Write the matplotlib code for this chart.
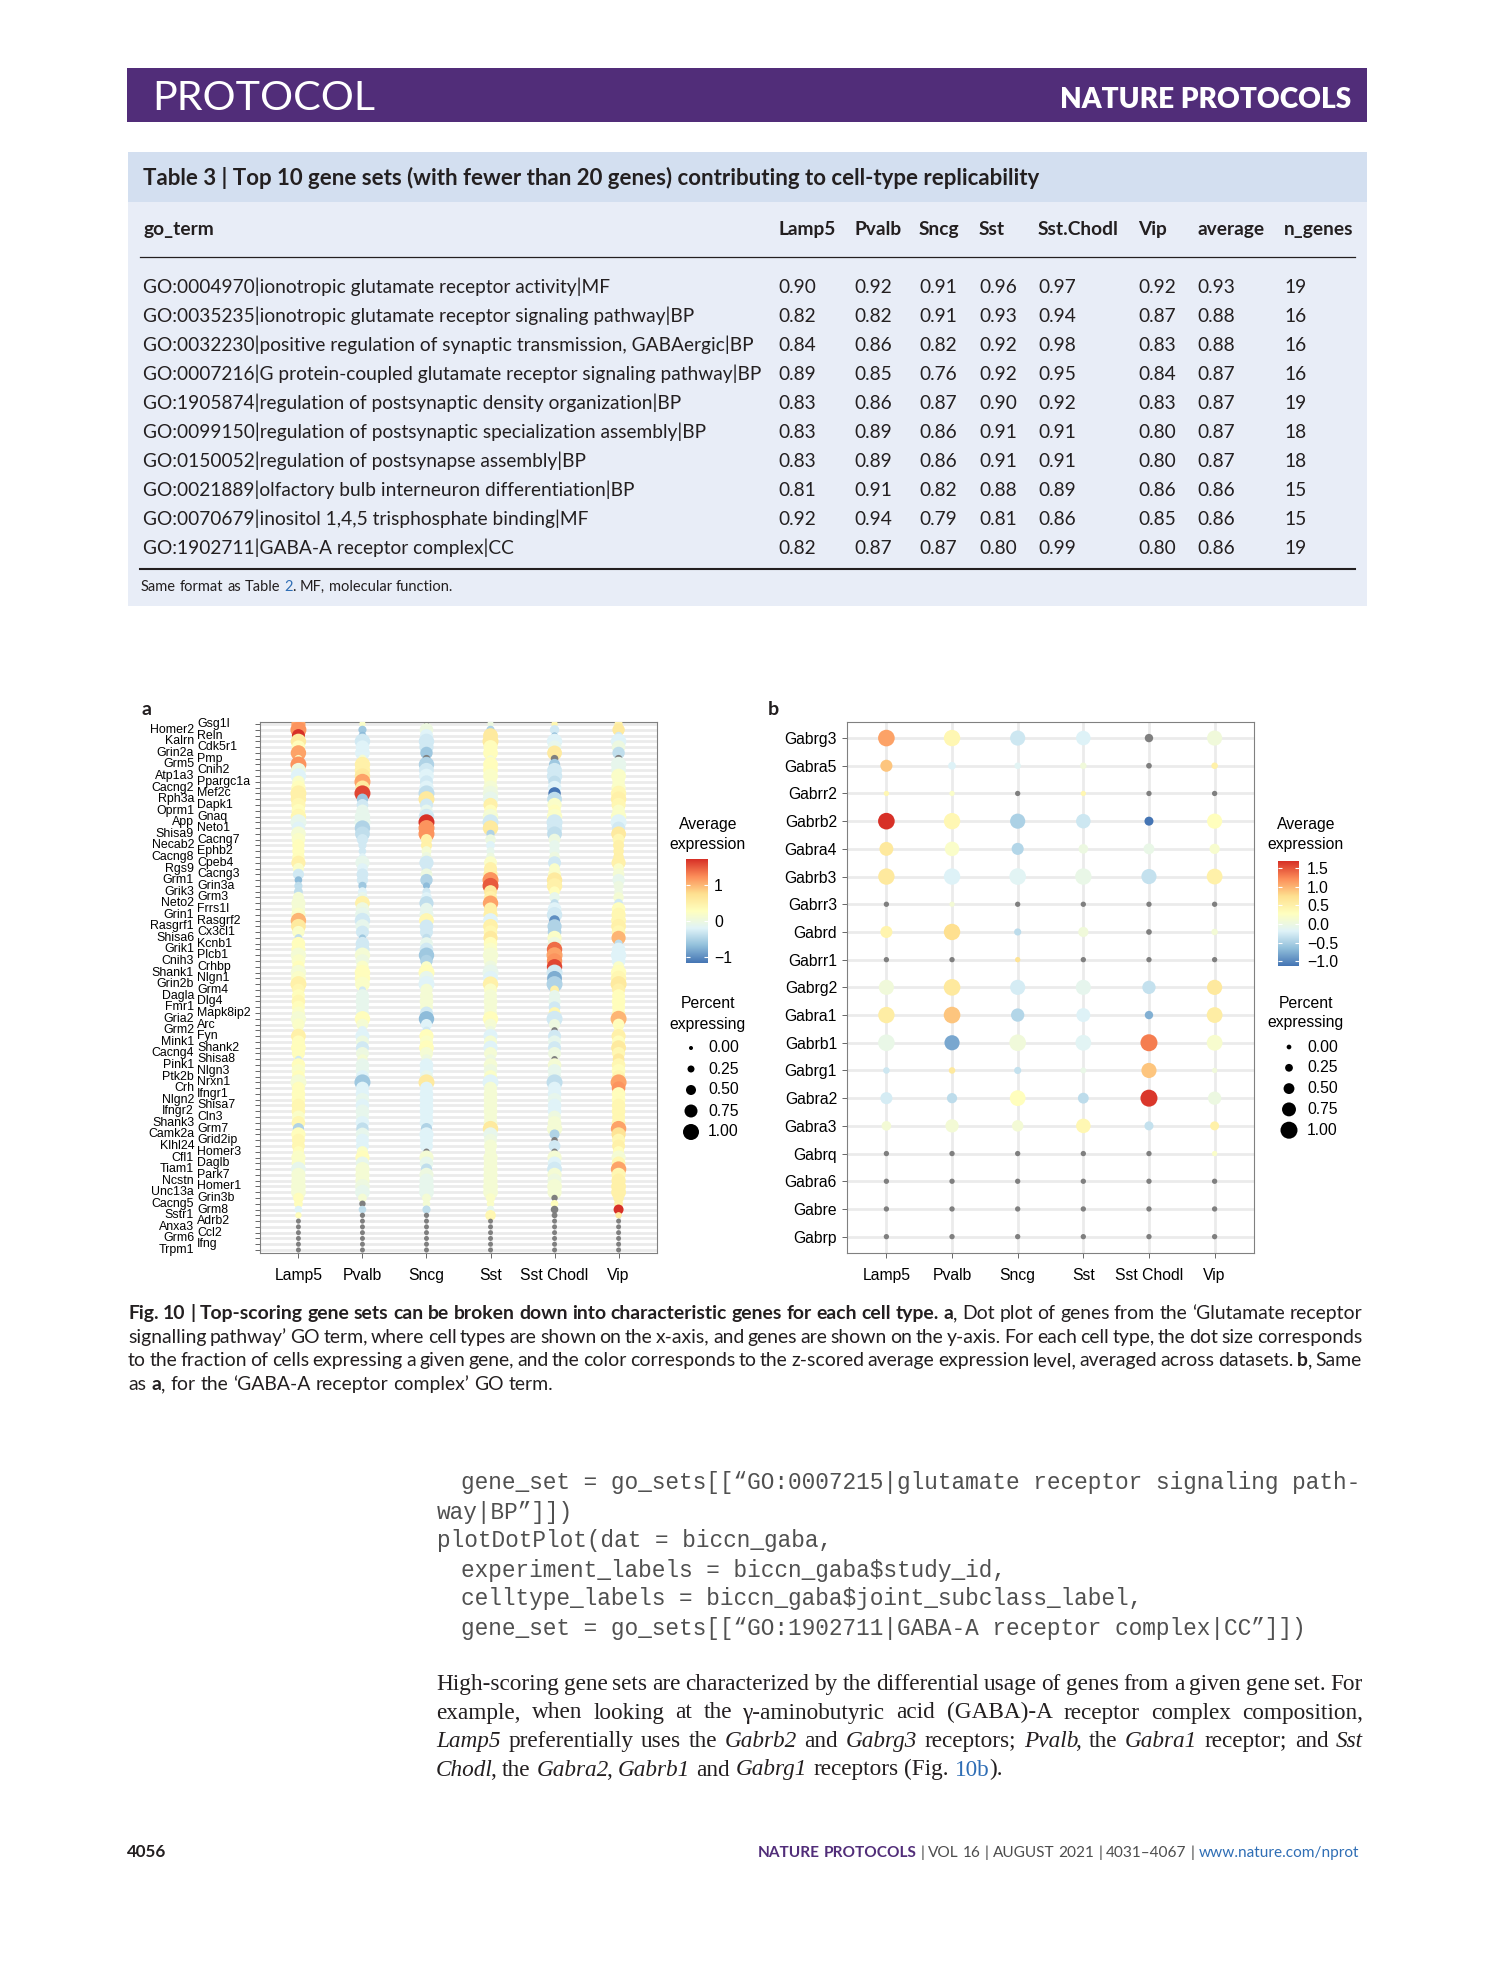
import re
import matplotlib
matplotlib.use("Agg")
import numpy as np
import matplotlib.pyplot as plt
from matplotlib.colors import LinearSegmentedColormap, Normalize
from matplotlib.patches import Rectangle

W, H = 1489, 1978
INK = "#231F20"
PURPLE = "#512D79"
BLUE = "#2F6EB5"
NA_GREY = "#7F7F7F"
SANS = ["Lato", "DejaVu Sans"]
PLOT_FONT = ["Liberation Sans", "DejaVu Sans"]
SERIF = ["Liberation Serif", "DejaVu Serif"]
MONO = ["Liberation Mono", "DejaVu Sans Mono"]

plt.rcParams["font.family"] = PLOT_FONT

# ---------------- table 3 ----------------
table_cols = ["go_term", "Lamp5", "Pvalb", "Sncg", "Sst", "Sst.Chodl", "Vip", "average", "n_genes"]
go_terms = [
    "GO:0004970|ionotropic glutamate receptor activity|MF",
    "GO:0035235|ionotropic glutamate receptor signaling pathway|BP",
    "GO:0032230|positive regulation of synaptic transmission, GABAergic|BP",
    "GO:0007216|G protein-coupled glutamate receptor signaling pathway|BP",
    "GO:1905874|regulation of postsynaptic density organization|BP",
    "GO:0099150|regulation of postsynaptic specialization assembly|BP",
    "GO:0150052|regulation of postsynapse assembly|BP",
    "GO:0021889|olfactory bulb interneuron differentiation|BP",
    "GO:0070679|inositol 1,4,5 trisphosphate binding|MF",
    "GO:1902711|GABA-A receptor complex|CC",
]
auroc_lamp5 = [0.90, 0.82, 0.84, 0.89, 0.83, 0.83, 0.83, 0.81, 0.92, 0.82]
auroc_pvalb = [0.92, 0.82, 0.86, 0.85, 0.86, 0.89, 0.89, 0.91, 0.94, 0.87]
auroc_sncg = [0.91, 0.91, 0.82, 0.76, 0.87, 0.86, 0.86, 0.82, 0.79, 0.87]
auroc_sst = [0.96, 0.93, 0.92, 0.92, 0.90, 0.91, 0.91, 0.88, 0.81, 0.80]
auroc_chodl = [0.97, 0.94, 0.98, 0.95, 0.92, 0.91, 0.91, 0.89, 0.86, 0.99]
auroc_vip = [0.92, 0.87, 0.83, 0.84, 0.83, 0.80, 0.80, 0.86, 0.85, 0.80]
auroc_avg = [0.93, 0.88, 0.88, 0.87, 0.87, 0.87, 0.87, 0.86, 0.86, 0.86]
n_genes = [19, 16, 16, 16, 19, 18, 18, 15, 15, 19]

# ---------------- dot plots ----------------
cell_types = ["Lamp5", "Pvalb", "Sncg", "Sst", "Sst Chodl", "Vip"]
N = None

genes_a = [
    "Gsg1l", "Homer2", "Reln", "Kalrn", "Cdk5r1", "Grin2a", "Pmp", "Grm5", "Cnih2", "Atp1a3",
    "Ppargc1a", "Cacng2", "Mef2c", "Rph3a", "Dapk1", "Oprm1", "Gnaq", "App", "Neto1", "Shisa9",
    "Cacng7", "Necab2", "Ephb2", "Cacng8", "Cpeb4", "Rgs9", "Cacng3", "Grm1", "Grin3a", "Grik3",
    "Grm3", "Neto2", "Frrs1l", "Grin1", "Rasgrf2", "Rasgrf1", "Cx3cl1", "Shisa6", "Kcnb1", "Grik1",
    "Plcb1", "Cnih3", "Crhbp", "Shank1", "Nlgn1", "Grin2b", "Grm4", "Dagla", "Dlg4", "Fmr1",
    "Mapk8ip2", "Gria2", "Arc", "Grm2", "Fyn", "Mink1", "Shank2", "Cacng4", "Shisa8", "Pink1",
    "Nlgn3", "Ptk2b", "Nrxn1", "Crh", "Ifngr1", "Nlgn2", "Shisa7", "Ifngr2", "Cln3", "Shank3",
    "Grm7", "Camk2a", "Grid2ip", "Klhl24", "Homer3", "Cfl1", "Daglb", "Tiam1", "Park7", "Ncstn",
    "Homer1", "Unc13a", "Grin3b", "Cacng5", "Grm8", "Sstr1", "Adrb2", "Anxa3", "Ccl2", "Grm6",
    "Ifng", "Trpm1",
]
# average expression (z-scored); None = not detected (grey)
expr_a = [
    [1.1, 0.2, N, 0.0, 0.4, 0.5], [1.2, -0.6, 0.0, -0.5, -0.3, 0.6],
    [1.72, -0.7, -0.2, 0.6, -0.7, -0.3], [0.6, -0.3, -0.3, 0.6, -0.2, -0.2],
    [0.3, -0.2, -0.3, 0.3, -0.1, 0.0], [1.1, -0.2, -0.6, 0.3, 0.6, -0.4],
    [0.2, 0.1, N, 0.1, N, N], [1.2, 0.5, -0.5, 0.3, -0.6, -0.1],
    [0.0, 0.5, -0.3, 0.3, -0.3, -0.1], [-0.2, 0.6, -0.2, 0.2, -0.3, 0.2],
    [0.2, 1.1, -0.3, 0.2, -0.4, 0.2], [0.3, 0.6, -0.2, 0.1, -0.2, 0.2],
    [0.5, 1.6, -0.4, 0.0, -1.17, 0.4], [0.5, -0.6, 0.6, -0.1, -0.4, 0.5],
    [0.4, -0.3, -0.3, 0.5, 0.2, 0.4], [0.3, -0.1, -0.1, 0.3, 0.3, 0.2],
    [0.4, -0.1, -0.3, 0.1, 0.2, 0.2], [-0.1, -0.1, 1.7, -0.3, -0.3, -0.2],
    [-0.2, -0.5, 1.2, 0.6, -0.3, -0.3], [0.1, -0.4, 1.2, -0.5, -0.4, 0.6],
    [0.2, -0.3, 0.5, 0.0, 0.0, 0.4], [0.3, -0.3, 0.5, -0.2, -0.1, 0.5],
    [0.3, -0.3, 0.1, -0.1, -0.1, 0.5], [0.3, -0.2, 0.0, 0.0, 0.0, 0.5],
    [0.5, -0.1, -0.3, 0.2, -0.3, 0.5], [0.2, -0.2, -0.3, 0.5, 0.2, 0.2],
    [-0.3, -0.3, 0.0, 0.5, 0.2, 0.1], [-0.7, -0.3, -0.5, 1.2, 0.6, -0.1],
    [-0.4, -0.6, -0.7, 1.5, 0.5, 0.0], [-0.4, -0.2, -0.3, 0.6, 0.3, 0.0],
    [0.1, -0.1, -0.2, 0.5, -0.1, 0.1], [0.1, 0.5, -0.4, 1.1, -0.4, -0.3],
    [0.1, 0.0, -0.1, 0.5, -0.2, 0.3], [0.2, -0.1, -0.1, 0.5, -0.3, 0.4],
    [1.0, -0.3, 0.4, -0.2, -1.0, 0.4], [0.6, -0.1, -0.3, 0.5, -0.5, 0.5],
    [0.2, -0.3, -0.3, 0.4, -0.5, 0.4], [-0.4, -0.6, -0.4, 0.6, 0.2, 1.0],
    [0.3, -0.3, -0.1, 0.3, 0.0, -0.4], [0.3, -0.3, -0.3, 0.2, 1.4, -0.2],
    [0.1, 0.1, -0.6, 0.1, 1.1, -0.2], [0.2, 0.0, -0.5, 0.1, 1.2, -0.2],
    [0.3, 0.2, 0.2, 0.0, 1.6, 0.2], [0.1, 0.3, 0.3, -0.1, -0.3, 0.3],
    [0.2, 0.3, -0.1, -0.2, -0.8, 0.4], [0.5, 0.2, -0.2, 0.5, -0.5, 0.6],
    [0.4, -0.3, 0.1, 0.2, 0.5, 0.5], [0.3, -0.1, 0.1, 0.1, -0.1, 0.3],
    [0.4, -0.1, 0.1, 0.1, -0.1, 0.3], [0.3, -0.1, 0.1, 0.1, -0.3, 0.3],
    [0.2, -0.1, -0.3, 0.1, 0.4, 0.3], [0.1, 0.3, -0.7, 0.3, -0.3, 1.0],
    [0.2, 0.1, -0.2, 0.1, 0.0, 0.3], [0.2, -0.2, -0.3, 0.0, N, 0.3],
    [0.5, -0.2, 0.3, -0.2, -0.3, 0.5], [0.3, 0.0, 0.2, 0.1, -0.1, 0.3],
    [0.3, -0.3, 0.3, -0.2, -0.3, 0.6], [0.3, 0.0, 0.1, 0.1, 0.0, 0.4],
    [-0.3, 0.1, 0.0, 0.0, N, 0.6], [0.3, -0.1, -0.2, 0.1, 0.1, 0.4],
    [0.2, -0.1, -0.2, 0.0, -0.1, 0.3], [0.3, -0.2, -0.1, 0.2, -0.1, 0.4],
    [0.1, -0.6, 0.6, -0.2, -0.4, 1.1], [0.3, -0.2, -0.2, 0.1, -0.2, 1.2],
    [0.3, -0.2, -0.2, 0.1, -0.2, 0.3], [0.3, -0.1, -0.2, 0.1, -0.1, 0.3],
    [0.4, -0.2, -0.2, 0.1, -0.2, 0.4], [0.4, -0.1, -0.2, 0.1, -0.2, 0.4],
    [0.2, -0.1, -0.2, 0.1, 0.0, 0.4], [0.4, -0.2, -0.2, 0.1, 0.1, 0.4],
    [-0.5, -0.4, -0.5, 0.6, 0.1, 1.1], [0.3, -0.1, -0.2, -0.1, -0.5, 0.7],
    [0.4, -0.2, -0.2, 0.0, N, 0.4], [0.4, -0.2, -0.2, 0.1, -0.3, 0.5],
    [0.3, 0.2, N, 0.1, N, 0.3], [0.2, 0.3, 0.1, 0.1, 0.1, 0.1],
    [0.2, -0.1, -0.1, 0.1, -0.2, 0.4], [-0.1, 0.1, -0.4, 0.1, -0.3, 1.1],
    [0.1, 0.1, 0.0, 0.1, 0.1, 0.4], [0.1, 0.1, -0.1, 0.1, 0.0, 0.5],
    [0.1, 0.0, -0.1, 0.1, 0.1, 0.5], [0.1, -0.1, -0.1, 0.1, 0.1, 0.5],
    [0.3, 0.1, 0.1, 0.2, N, 0.5], [0.3, N, 0.1, 0.2, 0.3, 0.5],
    [-0.2, -0.4, -0.4, -0.1, N, 1.72], [0.3, N, N, 0.4, N, 0.6],
    [N, N, N, N, N, N], [N, N, N, N, N, N],
    [N, N, N, N, N, N], [N, N, N, N, N, N],
    [N, N, N, N, N, N], [N, N, N, N, N, N],
]
# fraction of cells expressing
pct_a = [
    [0.85, 0.2, 0.1, 0.2, 0.2, 0.35], [1.0, 0.35, 0.8, 0.35, 0.45, 0.7],
    [0.75, 0.3, 0.75, 0.9, 0.2, 0.3], [0.95, 0.95, 0.95, 1.0, 0.95, 0.95],
    [0.8, 0.8, 0.85, 0.85, 0.8, 0.8], [0.95, 0.9, 0.7, 0.9, 0.9, 0.7],
    [0.3, 0.35, 0.3, 0.25, 0.3, 0.3], [1.0, 0.95, 0.95, 0.9, 0.6, 0.95],
    [0.9, 0.95, 0.9, 0.9, 0.9, 0.9], [0.95, 0.95, 0.9, 0.9, 0.95, 0.9],
    [0.7, 1.0, 0.75, 0.7, 0.7, 0.7], [0.85, 0.85, 0.85, 0.85, 0.8, 0.85],
    [1.0, 1.0, 1.0, 0.95, 0.7, 0.95], [0.95, 0.6, 1.0, 0.95, 0.9, 0.95],
    [0.85, 0.65, 0.75, 0.85, 0.85, 0.85], [0.8, 0.7, 0.7, 0.7, 0.7, 0.7],
    [0.95, 0.95, 0.95, 0.95, 0.95, 0.95], [1.0, 1.0, 1.0, 1.0, 1.0, 1.0],
    [0.75, 0.95, 1.0, 0.95, 0.95, 0.75], [0.9, 0.9, 1.0, 0.35, 0.9, 0.9],
    [0.8, 0.6, 0.6, 0.55, 0.65, 0.65], [0.7, 0.35, 0.6, 0.4, 0.55, 0.6],
    [0.7, 0.3, 0.5, 0.35, 0.55, 0.55], [0.7, 0.3, 0.5, 0.4, 0.55, 0.55],
    [0.85, 0.85, 0.85, 0.75, 0.75, 0.85], [0.6, 0.55, 0.45, 0.75, 0.55, 0.55],
    [0.6, 0.65, 0.65, 0.85, 0.75, 0.65], [0.3, 0.6, 0.7, 1.0, 0.95, 0.7],
    [0.35, 0.35, 0.25, 1.0, 0.95, 0.5], [0.4, 0.4, 0.35, 0.75, 0.55, 0.4],
    [0.6, 0.55, 0.55, 0.75, 0.55, 0.55], [0.85, 0.9, 0.85, 0.95, 0.35, 0.4],
    [0.8, 0.8, 0.7, 0.75, 0.8, 0.8], [0.85, 0.9, 0.85, 0.85, 0.95, 0.85],
    [0.95, 0.95, 0.9, 0.9, 0.55, 0.9], [0.9, 0.85, 0.8, 0.9, 0.85, 0.9],
    [0.7, 0.75, 0.75, 0.8, 0.8, 0.8], [0.3, 0.25, 0.35, 0.85, 0.85, 0.85],
    [0.8, 0.8, 0.75, 0.8, 0.8, 0.35], [0.85, 0.85, 0.8, 0.8, 0.95, 0.8],
    [0.95, 0.95, 0.95, 0.95, 1.0, 0.95], [0.8, 0.8, 0.7, 0.8, 0.95, 0.8],
    [0.7, 0.7, 0.6, 0.7, 0.95, 0.6], [0.95, 0.95, 1.0, 1.0, 1.0, 0.95],
    [0.9, 0.95, 0.9, 0.9, 0.9, 0.95], [1.0, 0.9, 1.0, 0.95, 1.0, 1.0],
    [0.7, 0.25, 0.7, 0.75, 0.4, 0.75], [0.75, 0.75, 0.75, 0.75, 0.6, 0.75],
    [0.8, 0.8, 0.8, 0.8, 0.7, 0.8], [0.75, 0.75, 0.75, 0.75, 0.65, 0.75],
    [0.75, 0.75, 0.75, 0.75, 0.65, 0.75], [0.95, 0.95, 0.95, 0.95, 1.0, 1.0],
    [0.7, 0.65, 0.6, 0.65, 0.6, 0.65], [0.45, 0.4, 0.3, 0.4, 0.2, 0.45],
    [0.9, 0.85, 0.85, 0.85, 0.75, 0.85], [0.75, 0.75, 0.75, 0.75, 0.75, 0.75],
    [0.9, 0.75, 0.9, 0.85, 0.75, 0.9], [0.75, 0.75, 0.75, 0.75, 0.75, 0.75],
    [0.25, 0.5, 0.5, 0.5, 0.2, 0.65], [0.8, 0.8, 0.8, 0.8, 0.8, 0.8],
    [0.8, 0.8, 0.8, 0.8, 0.8, 0.8], [0.75, 0.75, 0.75, 0.75, 0.75, 0.75],
    [1.0, 1.0, 1.0, 1.0, 1.0, 1.0], [0.75, 0.75, 0.75, 0.75, 0.75, 0.8],
    [0.8, 0.8, 0.8, 0.8, 0.8, 0.8], [0.8, 0.8, 0.8, 0.8, 0.8, 0.8],
    [0.8, 0.8, 0.8, 0.8, 0.8, 0.8], [0.8, 0.8, 0.8, 0.8, 0.8, 0.8],
    [0.75, 0.75, 0.75, 0.75, 0.75, 0.75], [0.8, 0.8, 0.8, 0.8, 0.8, 0.8],
    [0.6, 0.7, 0.6, 0.95, 0.95, 0.95], [0.85, 0.8, 0.85, 0.85, 0.5, 0.85],
    [0.75, 0.75, 0.75, 0.75, 0.2, 0.75], [0.75, 0.75, 0.75, 0.75, 0.65, 0.75],
    [0.6, 0.6, 0.2, 0.6, 0.2, 0.6], [0.85, 0.85, 0.85, 0.85, 0.85, 0.85],
    [0.8, 0.8, 0.8, 0.8, 0.8, 0.8], [0.9, 0.85, 0.6, 0.85, 0.9, 0.95],
    [0.85, 0.85, 0.85, 0.85, 0.85, 0.85], [0.85, 0.85, 0.85, 0.85, 0.85, 0.85],
    [0.9, 0.9, 0.9, 0.9, 0.9, 0.9], [0.9, 0.9, 0.9, 0.9, 0.85, 0.9],
    [0.55, 0.4, 0.4, 0.45, 0.2, 0.55], [0.4, 0.2, 0.3, 0.3, 0.3, 0.4],
    [0.3, 0.3, 0.35, 0.3, 0.3, 0.5], [0.2, 0.1, 0.1, 0.55, 0.15, 0.2],
    [0.08] * 6, [0.08] * 6, [0.08] * 6, [0.08] * 6, [0.08] * 6, [0.08] * 6,
]

genes_b = ["Gabrg3", "Gabra5", "Gabrr2", "Gabrb2", "Gabra4", "Gabrb3", "Gabrr3", "Gabrd", "Gabrr1",
           "Gabrg2", "Gabra1", "Gabrb1", "Gabrg1", "Gabra2", "Gabra3", "Gabrq", "Gabra6", "Gabre", "Gabrp"]
expr_b = [
    [1.1, 0.4, -0.3, -0.2, N, 0.05],
    [0.9, -0.2, -0.15, 0.05, N, 0.5],
    [0.4, 0.2, N, 0.4, N, N],
    [1.69, 0.4, -0.5, -0.3, -1.13, 0.3],
    [0.6, 0.2, -0.45, 0.0, -0.05, 0.15],
    [0.6, -0.2, -0.15, -0.05, -0.35, 0.5],
    [N, 0.1, N, N, N, N],
    [0.45, 0.75, -0.4, 0.05, N, 0.1],
    [N, N, 0.7, N, N, N],
    [0.05, 0.6, -0.25, -0.1, -0.35, 0.6],
    [0.55, 0.9, -0.45, -0.2, -0.75, 0.55],
    [-0.05, -0.8, 0.05, -0.15, 1.3, 0.15],
    [-0.3, 0.6, -0.35, -0.05, 0.9, 0.05],
    [-0.25, -0.4, 0.3, -0.4, 1.65, 0.0],
    [0.1, 0.1, 0.1, 0.4, -0.35, 0.5],
    [N, N, N, N, N, 0.2],
    [N, N, N, N, N, N],
    [N, N, N, N, N, N],
    [N, N, N, N, N, N],
]
pct_b = [
    [0.97, 0.95, 0.85, 0.8, 0.3, 0.85],
    [0.6, 0.25, 0.15, 0.15, 0.08, 0.15],
    [0.05, 0.05, 0.05, 0.05, 0.05, 0.05],
    [0.97, 0.95, 0.85, 0.8, 0.35, 0.85],
    [0.75, 0.8, 0.6, 0.4, 0.5, 0.45],
    [0.95, 0.95, 0.97, 0.95, 0.85, 0.9],
    [0.05, 0.05, 0.05, 0.05, 0.05, 0.05],
    [0.6, 0.95, 0.2, 0.45, 0.08, 0.15],
    [0.05, 0.05, 0.05, 0.05, 0.05, 0.05],
    [0.85, 0.97, 0.85, 0.85, 0.7, 0.85],
    [0.95, 0.97, 0.7, 0.75, 0.3, 0.9],
    [0.97, 0.85, 0.97, 0.9, 1.0, 0.9],
    [0.15, 0.15, 0.2, 0.1, 0.85, 0.05],
    [0.6, 0.45, 0.9, 0.5, 1.0, 0.7],
    [0.4, 0.7, 0.55, 0.8, 0.35, 0.35],
    [0.05, 0.05, 0.05, 0.05, 0.05, 0.05],
    [0.05, 0.05, 0.05, 0.05, 0.05, 0.05],
    [0.05, 0.05, 0.05, 0.05, 0.05, 0.05],
    [0.05, 0.05, 0.05, 0.05, 0.05, 0.05],
]

lim_a = (-1.17, 1.72)
lim_b = (-1.13, 1.69)
ticks_a = [-1, 0, 1]
ticks_b = [-1.0, -0.5, 0.0, 0.5, 1.0, 1.5]
size_breaks = [0.0, 0.25, 0.5, 0.75, 1.0]

# ---------------- text ----------------
caption_lines = [
    "**Fig. 10 | Top-scoring gene sets can be broken down into characteristic genes for each cell type. a**, Dot plot of genes from the ‘Glutamate receptor",
    "signalling pathway’ GO term, where cell types are shown on the x-axis, and genes are shown on the y-axis. For each cell type, the dot size corresponds",
    "to the fraction of cells expressing a given gene, and the color corresponds to the z-scored average expression level, averaged across datasets. **b**, Same",
    "as **a**, for the ‘GABA-A receptor complex’ GO term.",
]
code_lines = [
    (1, "gene_set = go_sets[[“GO:0007215|glutamate receptor signaling path-"),
    (0, "way|BP”]])"),
    (0, "plotDotPlot(dat = biccn_gaba,"),
    (1, "experiment_labels = biccn_gaba$study_id,"),
    (1, "celltype_labels = biccn_gaba$joint_subclass_label,"),
    (1, "gene_set = go_sets[[“GO:1902711|GABA-A receptor complex|CC”]])"),
]
para_lines = [
    "High-scoring gene sets are characterized by the differential usage of genes from a given gene set. For",
    "example, when looking at the γ-aminobutyric acid (GABA)-A receptor complex composition,",
    "*Lamp5* preferentially uses the *Gabrb2* and *Gabrg3* receptors; *Pvalb*, the *Gabra1* receptor; and *Sst*",
    "*Chodl*, the *Gabra2*, *Gabrb1* and *Gabrg1* receptors (Fig. ^10b^).",
]

cmap = LinearSegmentedColormap.from_list(
    "rdylbu", ["#4575B4", "#91BFDB", "#E0F3F8", "#FFFFBF", "#FEE090", "#FC8D59", "#D73027"])

fig = plt.figure(figsize=(W / 100, H / 100), dpi=100)
page = fig.add_axes([0, 0, 1, 1])
page.set_xlim(0, W)
page.set_ylim(H, 0)
page.axis("off")
renderer = fig.canvas.get_renderer()


def px_rect(x0, y0, x1, y1):
    return [x0 / W, 1 - y1 / H, (x1 - x0) / W, (y1 - y0) / H]


def fit_size(s, width, **kw):
    t = page.text(0, 0, s, fontsize=10, parse_math=False, **kw)
    w = t.get_window_extent(renderer).width
    t.remove()
    return 10 * width / w


def parse_rich(line):
    words, word = [], []
    st = {"bold": False, "ital": False, "col": None}
    for tok in re.split(r"(\*\*|\*|\^|~| )", line):
        if tok == "**":
            st["bold"] = not st["bold"]
        elif tok == "*":
            st["ital"] = not st["ital"]
        elif tok == "^":
            st["col"] = None if st["col"] == BLUE else BLUE
        elif tok == "~":
            st["col"] = None if st["col"] == PURPLE else PURPLE
        elif tok == " ":
            if word:
                words.append(word)
                word = []
        elif tok:
            word.append((tok, dict(st)))
    if word:
        words.append(word)
    return words


def rich_line(x0, x1, y, line, size, family, color=INK, align="left", draw=True):
    arts, widths = [], []
    for word in parse_rich(line):
        pieces = []
        for k, (txt, st) in enumerate(word):
            t = page.text(0, y, txt, fontsize=size, family=family, color=st["col"] or color,
                          weight="bold" if st["bold"] else "normal",
                          style="italic" if st["ital"] else "normal",
                          ha="left", va="baseline", parse_math=False)
            w = t.get_window_extent(renderer).width
            # pull upright punctuation back under an italic overhang
            if st["ital"] and k + 1 < len(word) and not word[k + 1][1]["ital"]:
                w -= size * 100 / 72 * 0.12
            pieces.append((t, w))
        arts.append(pieces)
        widths.append(sum(w for _, w in pieces))
    space = size * 100 / 72 * 0.26
    natural = sum(widths) + space * (len(widths) - 1)
    if not draw:
        for pieces in arts:
            for t, _ in pieces:
                t.remove()
        return natural
    if align == "justify" and len(widths) > 1:
        gap = (x1 - x0 - sum(widths)) / (len(widths) - 1)
        x = x0
    else:
        gap = space
        x = x0 if align == "left" else x1 - natural
    for pieces, w in zip(arts, widths):
        xx = x
        for t, tw in pieces:
            t.set_x(xx)
            xx += tw
        x += w + gap
    return natural


# ---------------- header bar ----------------
page.add_patch(Rectangle((127, 68), 1240, 54, color=PURPLE, lw=0))
s = fit_size("PROTOCOL", 221, family=SANS)
page.text(152, 110, "PROTOCOL", fontsize=s, family=SANS, color="white", va="baseline")
s = fit_size("NATURE PROTOCOLS", 291, family=SANS, weight="heavy")
page.text(1351, 108, "NATURE PROTOCOLS", fontsize=s, family=SANS, weight="heavy",
          color="white", ha="right", va="baseline")

# ---------------- table ----------------
page.add_patch(Rectangle((128, 152), 1239, 454, color="#E8EDF7", lw=0))
page.add_patch(Rectangle((128, 152), 1239, 50, color="#D3DFF0", lw=0))
title = "Table 3 | Top 10 gene sets (with fewer than 20 genes) contributing to cell-type replicability"
s = fit_size(title, 899, family=SANS, weight="bold")
page.text(143, 185, title, fontsize=s, family=SANS, weight="bold", color=INK, va="baseline")

col_x = [143, 778, 854, 919, 979, 1038, 1138, 1197, 1284]
ts = fit_size(go_terms[0], 468, family=SANS)
for x, c in zip(col_x, table_cols):
    page.text(x, 235, c, fontsize=ts, family=SANS, weight="bold", color=INK, va="baseline")
page.plot([140, 1355], [257, 257], color=INK, lw=0.9)
for k, term in enumerate(go_terms):
    y = 293 + 29 * k
    vals = [auroc_lamp5[k], auroc_pvalb[k], auroc_sncg[k], auroc_sst[k], auroc_chodl[k],
            auroc_vip[k], auroc_avg[k]]
    cells = [term] + [f"{v:.2f}" for v in vals] + [str(n_genes[k])]
    for x, c in zip(col_x, cells):
        page.text(x, y, c, fontsize=ts, family=SANS, color=INK, va="baseline", parse_math=False)
page.plot([140, 1355], [569, 569], color=INK, lw=1.5)
foot = "Same format as Table ^2^. MF, molecular function."
fs = 10 * 310 / rich_line(0, 0, 0, foot, 10, SANS, draw=False)
rich_line(141, 1355, 591, foot, fs, SANS)


# ---------------- dot plots ----------------
def draw_dots(ax, genes, expr, pct, lims, dmin, dspan):
    norm = Normalize(*lims)
    xs, ys, cs, ss = [], [], [], []
    for i in range(len(genes)):
        for j in range(len(cell_types)):
            e = expr[i][j]
            xs.append(j)
            ys.append(i)
            cs.append(NA_GREY if e is None else cmap(norm(e)))
            ss.append((0.72 * (dmin + dspan * pct[i][j])) ** 2)
    ax.scatter(xs, ys, s=ss, c=cs, linewidths=0, zorder=3)
    ax.set_xlim(-0.6, 5.6)
    ax.set_xticks(range(len(cell_types)))
    ax.set_xticklabels(cell_types)
    ax.set_yticks(range(len(genes)))
    ax.grid(True, color="#EBEBEB", lw=2.0)
    ax.set_axisbelow(True)
    for sp in ax.spines.values():
        sp.set_color("#808080")
        sp.set_linewidth(0.8)
    ax.tick_params(axis="both", color="#666666", length=3.6, width=0.7, labelsize=11.3)
    ax.tick_params(axis="x", pad=7)


ax_a = fig.add_axes(px_rect(260, 722, 657, 1253))
draw_dots(ax_a, genes_a, expr_a, pct_a, lim_a, 4.0, 12.0)
ax_a.set_ylim(len(genes_a) - 1 + 0.52, -0.35)
ax_a.set_yticklabels([])
for i, g in enumerate(genes_a):
    if i % 2 == 0:
        ax_a.text(-0.1587, i, g, transform=ax_a.get_yaxis_transform(), ha="left",
                  va="center", fontsize=8.9)
    else:
        ax_a.text(-0.1662, i, g, transform=ax_a.get_yaxis_transform(), ha="right",
                  va="center", fontsize=8.9)

ax_b = fig.add_axes(px_rect(847, 722, 1254, 1253))
draw_dots(ax_b, genes_b, expr_b, pct_b, lim_b, 4.7, 12.3)
ax_b.set_ylim(len(genes_b) - 1 + 0.59, -0.58)
ax_b.set_yticklabels(genes_b)
ax_b.tick_params(axis="y", pad=3.6)

page.text(142, 715, "a", fontsize=14, family=SANS, weight="bold", color=INK, va="baseline")
page.text(768, 715, "b", fontsize=14, family=SANS, weight="bold", color=INK, va="baseline")


def colour_bar(rect, lims, ticks, pad, fmt):
    cax = fig.add_axes(px_rect(*rect))
    grad = np.linspace(lims[0], lims[1], 256).reshape(-1, 1)
    cax.imshow(grad, cmap=cmap, norm=Normalize(*lims), aspect="auto", origin="lower",
               extent=[0, 1, lims[0], lims[1]])
    cax.set_xlim(0, 1)
    cax.set_ylim(*lims)
    cax.set_xticks([])
    cax.yaxis.tick_right()
    cax.set_yticks(ticks)
    cax.set_yticklabels([fmt(t).replace("-", "\u2212") for t in ticks])
    cax.tick_params(axis="y", length=0, pad=pad, labelsize=11.3)
    for sp in cax.spines.values():
        sp.set_visible(False)
    cax.hlines(ticks, 0, 0.2, color="white", lw=0.8)
    cax.hlines(ticks, 0.8, 1, color="white", lw=0.8)


def legend_block(xc, y_title, cbar_rect, lims, ticks, pad, fmt, y_size, x_dot, x_lab, step, dmin, dspan):
    page.text(xc, y_title, "Average", ha="center", va="center", fontsize=11.3)
    page.text(xc, y_title + 19, "expression", ha="center", va="center", fontsize=11.3)
    colour_bar(cbar_rect, lims, ticks, pad, fmt)
    page.text(xc, y_size, "Percent", ha="center", va="center", fontsize=11.3)
    page.text(xc, y_size + 20, "expressing", ha="center", va="center", fontsize=11.3)
    ys = [y_size + 44 + step * k for k in range(len(size_breaks))]
    page.scatter([x_dot] * len(size_breaks), ys, c="black", linewidths=0,
                 s=[(0.72 * (dmin + dspan * b)) ** 2 for b in size_breaks])
    for y, b in zip(ys, size_breaks):
        page.text(x_lab, y, f"{b:.2f}", va="center", fontsize=11.3)


legend_block(708, 825, (686, 859, 708, 963), lim_a, ticks_a, 4.3, lambda t: f"{t:.0f}",
             1004, 691, 708, 21, 4.0, 12.0)
legend_block(1306, 825, (1278, 861, 1299, 966), lim_b, ticks_b, 5.8, lambda t: f"{t:.1f}",
             1003, 1289, 1307, 20.8, 4.7, 12.3)

# ---------------- caption ----------------
cs = 10 * 425 / rich_line(0, 0, 0, caption_lines[-1], 10, SANS, draw=False)
for k, line in enumerate(caption_lines):
    rich_line(128, 1362, 1319 + 23.7 * k, line, cs, SANS,
              align="justify" if k < len(caption_lines) - 1 else "left")

# ---------------- code block ----------------
ms = fit_size(code_lines[0][1], 904, family=MONO)
for k, (indent, line) in enumerate(code_lines):
    page.text(437 + 24 * indent, 1483 + 29 * k, line, fontsize=ms, family=MONO,
              color="#505050", va="center", parse_math=False)

# ---------------- paragraph ----------------
ps = 10 * 568 / rich_line(0, 0, 0, para_lines[-1], 10, SERIF, draw=False)
for k, line in enumerate(para_lines):
    rich_line(436, 1363, 1690 + 28.5 * k, line, ps, SERIF,
              align="justify" if k < len(para_lines) - 1 else "left")

# ---------------- footer ----------------
footer_right = "**~NATURE PROTOCOLS~** | VOL 16 | AUGUST 2021 | 4031–4067 | ^www.nature.com/nprot^"
rs = 10 * 602 / rich_line(0, 0, 0, footer_right, 10, SANS, draw=False)
rich_line(127, 1359, 1857, footer_right, rs, SANS, color="#4D4D4D", align="right")
rich_line(127, 1359, 1857, "**4056**", rs * 1.1, SANS, align="left")

fig.savefig("out.png", dpi=100, facecolor="white")
